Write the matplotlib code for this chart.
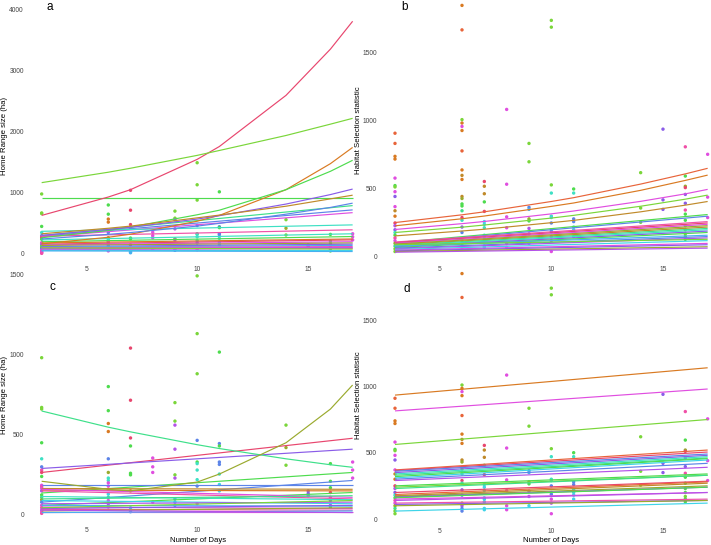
import matplotlib
matplotlib.use("Agg")
import matplotlib.pyplot as plt

plt.rcParams['font.family'] = ['Liberation Sans', 'DejaVu Sans']

# ---- palette (hue-like colours per individual group) ----
PAL = {
    'R': '#E8466E', 'OR': '#E8643A', 'O': '#D97A22', 'BR': '#C08A2A',
    'OL': '#9AAA2E', 'LG': '#7AD63A', 'G': '#4EDC4E', 'SG': '#3EE08A',
    'T': '#3EE0C4', 'C': '#3ED4E8', 'SB': '#48B0F0', 'B': '#5C84E8',
    'P': '#8A5CE8', 'V': '#B452E8', 'M': '#E04EE0', 'PK': '#F050A8',
}

# ---- Home range points (panels a, c) ----
hr_days = ([3]*22 + [6]*16 + [7]*10 + [8]*4 + [9]*9 + [10]*10 + [11]*8
           + [14]*3 + [15]*3 + [16]*8 + [17]*3)
hr_values = [980, 670, 660, 450, 350, 300, 280, 265, 240, 185, 175, 165, 150, 125, 110, 95, 80, 60, 45, 30, 20, 10,
             800, 650, 570, 520, 350, 265, 230, 215, 200, 180, 160, 130, 110, 90, 70, 50,
             1040, 715, 480, 430, 260, 250, 150, 45, 30, 20,
             355, 300, 265, 80,
             700, 585, 560, 410, 250, 230, 100, 80, 60,
             1490, 1130, 880, 465, 330, 320, 280, 220, 180, 70,
             1015, 445, 430, 330, 315, 255, 190, 150,
             560, 420, 310,
             150, 135, 120,
             320, 210, 170, 140, 110, 90, 60, 50,
             330, 280, 230]
hr_colors = ['LG', 'LG', 'LG', 'G', 'T', 'B', 'PK', 'R', 'G', 'M', 'PK', 'M', 'V', 'G', 'SG', 'OL', 'B', 'M', 'PK', 'V', 'M', 'PK',
             'G', 'G', 'O', 'O', 'B', 'OL', 'T', 'T', 'M', 'M', 'PK', 'C', 'SG', 'M', 'V', 'M',
             'R', 'R', 'R', 'G', 'G', 'G', 'BR', 'C', 'C', 'SB',
             'M', 'M', 'M', 'M',
             'LG', 'LG', 'V', 'V', 'LG', 'V', 'SB', 'SB', 'B',
             'LG', 'LG', 'LG', 'B', 'G', 'T', 'T', 'T', 'B', 'M',
             'G', 'B', 'G', 'B', 'B', 'T', 'C', 'C',
             'LG', 'OL', 'LG',
             'P', 'P', 'B',
             'G', 'G', 'G', 'R', 'PK', 'P', 'V', 'G',
             'M', 'M', 'M']

# ---- Habitat selection points (panels b, d) ----
hs_days = ([3]*23 + [6]*23 + [7]*13 + [8]*6 + [9]*9 + [10]*12 + [11]*8
           + [14]*3 + [15]*3 + [16]*14 + [17]*3)
hs_values = [910, 835, 740, 720, 580, 525, 515, 480, 445, 370, 340, 300, 250, 230, 200, 180, 160, 140, 120, 100, 80, 60, 40,
             1850, 1670, 1010, 985, 960, 930, 780, 640, 600, 570, 445, 430, 390, 375, 340, 290, 270, 220, 180, 120, 100, 80, 60,
             555, 520, 465, 405, 335, 260, 240, 215, 160, 150, 130, 80, 70,
             1085, 535, 295, 215, 100, 70,
             835, 700, 365, 350, 280, 265, 210, 170, 100,
             1740, 1690, 530, 470, 300, 290, 250, 200, 185, 150, 120, 40,
             500, 470, 280, 260, 220, 200, 180, 150,
             620, 360, 255,
             940, 420, 350,
             810, 595, 520, 510, 460, 395, 345, 315, 270, 230, 200, 170, 150, 130,
             755, 440, 290]
hs_colors = ['OR', 'OR', 'O', 'O', 'M', 'G', 'LG', 'M', 'P', 'M', 'BR', 'O', 'R', 'V', 'P', 'T', 'G', 'PK', 'M', 'OL', 'SG', 'LG', 'LG',
             'O', 'OR', 'LG', 'O', 'M', 'O', 'OR', 'O', 'BR', 'O', 'BR', 'OL', 'G', 'G', 'SG', 'R', 'T', 'P', 'B', 'LG', 'V', 'B', 'B',
             'R', 'BR', 'BR', 'G', 'R', 'C', 'C', 'T', 'C', 'C', 'C', 'C', 'C',
             'M', 'M', 'M', 'M', 'M', 'M',
             'LG', 'LG', 'B', 'SB', 'OL', 'G', 'V', 'V', 'C',
             'LG', 'LG', 'LG', 'T', 'T', 'C', 'B', 'SB', 'B', 'M', 'V', 'M',
             'G', 'T', 'B', 'B', 'T', 'C', 'C', 'C',
             'LG', 'LG', 'LG',
             'P', 'P', 'P',
             'PK', 'G', 'OL', 'R', 'P', 'P', 'PK', 'G', 'G', 'G', 'G', 'LG', 'G', 'G',
             'M', 'M', 'M']

# ---- fitted curves, values read at these days ----
curve_days = [3, 6, 7, 10, 11, 14, 16, 17]

a_curves = {
    'R':  [630, 930, 1050, 1545, 1755, 2590, 3345, 3800],
    'LG': [1165, 1335, 1400, 1610, 1690, 1935, 2120, 2215],
    'O':  [165, 273, 323, 535, 630, 1050, 1475, 1740],
    'G':  [265, 385, 440, 640, 715, 1050, 1350, 1530],
    'P':  [305, 400, 435, 570, 625, 815, 970, 1060],
    'BR': [330, 420, 455, 590, 635, 780, 900, 960],
    'B':  [245, 320, 350, 455, 500, 650, 760, 830],
}
c_curves = {
    'SG': [648, 547, 518, 438, 414, 350, 313, 297],
    'OL': [210, 160, 150, 205, 255, 450, 660, 810],
}
b_curves = {
    'OR': [253, 310, 332, 408, 436, 536, 611, 652],
    'O':  [229, 281, 301, 372, 397, 490, 563, 602],
    'M':  [202, 245, 261, 317, 338, 409, 464, 497],
    'LG': [180, 219, 235, 286, 306, 373, 425, 455],
    'BR': [155, 191, 204, 252, 269, 332, 381, 408],
}

# ---- straight fitted lines: value at day 3, value at day 17, colour ----
line_days = [3, 17]
a_start = [910, 300, 290, 280, 370, 290, 230, 200, 180, 160, 150, 140, 120, 110, 100, 90, 80, 70, 60, 50, 100]
a_end   = [910, 790, 720, 675, 475, 395, 330, 285, 245, 230, 200, 180, 160, 140, 120, 110, 100, 90, 55, 40, 80]
a_col   = ['G', 'SG', 'B', 'M', 'T', 'PK', 'T', 'G', 'O', 'R', 'M', 'OL', 'P', 'SB', 'PK', 'M', 'V', 'M', 'C', 'SB', 'LG']

c_start = [265, 290, 137, 80, 60, 185, 165, 155, 160, 150, 115, 100, 90, 70, 60, 50, 40, 35, 25, 20, 15, 30, 45]
c_end   = [478, 410, 265, 215, 140, 185, 160, 150, 110, 100, 95, 120, 70, 80, 55, 40, 60, 30, 45, 20, 25, 15, 90]
c_col   = ['R', 'P', 'G', 'B', 'G', 'B', 'BR', 'O', 'M', 'PK', 'T', 'SG', 'C', 'V', 'SB', 'M', 'P', 'PK', 'OL', 'M', 'SB', 'V', 'LG']

b_start = [105, 100, 110, 105, 100, 95, 90, 85, 80, 75, 70, 80, 65, 60, 90, 55, 50, 45, 40, 35]
b_end   = [312, 300, 260, 250, 240, 230, 220, 210, 200, 190, 180, 160, 150, 140, 130, 120, 100, 90, 75, 65]
b_col   = ['G', 'B', 'PK', 'R', 'M', 'OL', 'BR', 'SG', 'T', 'P', 'G', 'SB', 'B', 'V', 'LG', 'C', 'M', 'P', 'OL', 'V']

d_start = [934, 815, 562, 370, 365, 360, 350, 340, 330, 320, 310, 300, 290, 250, 240, 230, 200, 185, 175, 170, 165, 160, 150, 140, 120, 110, 100, 60]
d_end   = [1140, 980, 750, 520, 505, 490, 480, 470, 460, 455, 445, 420, 390, 340, 330, 330, 285, 280, 270, 250, 240, 240, 200, 200, 150, 140, 140, 120]
d_col   = ['O', 'M', 'LG', 'OR', 'R', 'B', 'P', 'T', 'SG', 'G', 'C', 'B', 'V', 'G', 'LG', 'SG', 'R', 'OR', 'BR', 'OL', 'P', 'G', 'M', 'V', 'PK', 'P', 'OL', 'C']

W, H = 711, 545
fig = plt.figure(figsize=(W / 100, H / 100), dpi=100)
fig.patch.set_facecolor('white')


def add_ax(left, right, top, bottom):
    return fig.add_axes([left / W, 1 - bottom / H, (right - left) / W, (bottom - top) / H])


def style(ax, xlim, ylim, yticks, xpad=3):
    ax.set_xlim(*xlim)
    ax.set_ylim(*ylim)
    for s in ax.spines.values():
        s.set_visible(False)
    ax.set_xticks([5, 10, 15])
    ax.set_yticks(yticks)
    ax.tick_params(length=0, labelsize=4.8, labelcolor='#444444')
    ax.tick_params(axis='y', pad=8.0)
    ax.tick_params(axis='x', pad=xpad)
    ax.patch.set_alpha(0)


def draw(ax, days, vals, cols, curves, starts, ends, lcols):
    ax.scatter(days, vals, s=6, c=[PAL[c] for c in cols], linewidths=0, zorder=2, clip_on=False)
    for s, e, c in zip(starts, ends, lcols):
        ax.plot(line_days, [s, e], color=PAL[c], lw=0.85, zorder=3, solid_capstyle='butt')
    for c, v in curves.items():
        ax.plot(curve_days, v, color=PAL[c], lw=0.85, zorder=3, solid_capstyle='butt')


ax_a = add_ax(35, 359.3, 4, 262)
style(ax_a, (2.7, 17.3), (-131, 4082), [0, 1000, 2000, 3000, 4000])
draw(ax_a, hr_days, hr_values, hr_colors, a_curves, a_start, a_end, a_col)

ax_b = add_ax(388.3, 711, 2, 262)
style(ax_b, (2.7, 17.15), (-37, 1875), [0, 500, 1000, 1500])
draw(ax_b, hs_days, hs_values, hs_colors, b_curves, b_start, b_end, b_col)

ax_c = add_ax(35, 359.3, 268, 523)
style(ax_c, (2.7, 17.3), (-50, 1539), [0, 500, 1000, 1500])
draw(ax_c, hr_days, hr_values, hr_colors, c_curves, c_start, c_end, c_col)

ax_d = add_ax(388.3, 711, 268, 525)
style(ax_d, (2.7, 17.15), (-45, 1892), [0, 500, 1000, 1500], xpad=2.5)
draw(ax_d, hs_days, hs_values, hs_colors, {}, d_start, d_end, d_col)


def ftext(x, y, s, **kw):
    fig.text(x / W, 1 - y / H, s, **kw)


lab = dict(fontsize=5.6, color='black', ha='center', va='center')
ftext(5, 136, 'Home Range size (ha)', rotation=90, **lab)
ftext(359, 130, 'Habitat Selection statistic', rotation=90, **lab)
ftext(5, 395, 'Home Range size (ha)', rotation=90, **lab)
ftext(359, 395, 'Habitat Selection statistic', rotation=90, **lab)
ftext(198, 540.5, 'Number of Days', **lab)
ftext(551, 540.5, 'Number of Days', **lab)

pl = dict(fontsize=8.5, color='black', ha='center', va='center')
ftext(50, 7, 'a', **pl)
ftext(405, 7, 'b', **pl)
ftext(52, 287, 'c', **pl)
ftext(407, 289, 'd', **pl)

fig.savefig('out.png', dpi=100, facecolor='white')
